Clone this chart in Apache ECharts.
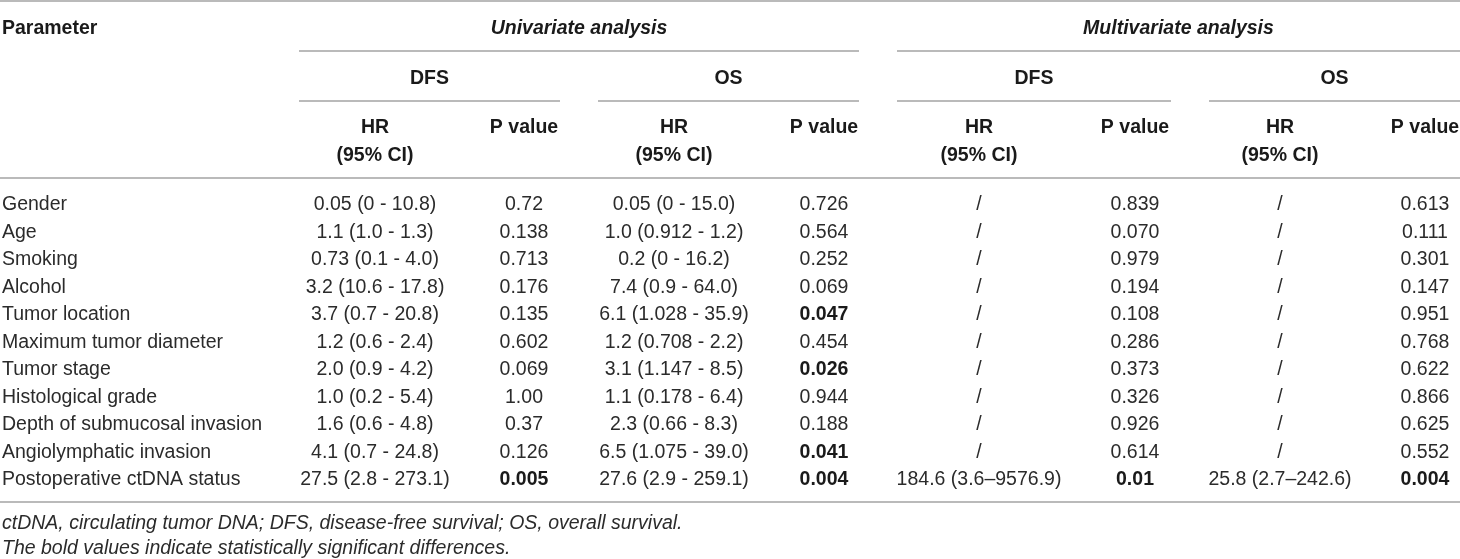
<!DOCTYPE html>
<html>
<head>
<meta charset="utf-8">
<script src="https://cdn.jsdelivr.net/npm/echarts@6/dist/echarts.min.js"></script>
<style>
html,body{margin:0;padding:0;background:#fff;}
#chart{width:1460px;height:559px;}
</style>
</head>
<body>
<div id="chart"></div>
<script>
// ---- data ----
const parameters = ['Gender','Age','Smoking','Alcohol','Tumor location','Maximum tumor diameter','Tumor stage','Histological grade','Depth of submucosal invasion','Angiolymphatic invasion','Postoperative ctDNA status'];
const uniDfsHR = ['0.05 (0 - 10.8)','1.1 (1.0 - 1.3)','0.73 (0.1 - 4.0)','3.2 (10.6 - 17.8)','3.7 (0.7 - 20.8)','1.2 (0.6 - 2.4)','2.0 (0.9 - 4.2)','1.0 (0.2 - 5.4)','1.6 (0.6 - 4.8)','4.1 (0.7 - 24.8)','27.5 (2.8 - 273.1)'];
const uniDfsP = ['0.72','0.138','0.713','0.176','0.135','0.602','0.069','1.00','0.37','0.126','0.005'];
const uniOsHR = ['0.05 (0 - 15.0)','1.0 (0.912 - 1.2)','0.2 (0 - 16.2)','7.4 (0.9 - 64.0)','6.1 (1.028 - 35.9)','1.2 (0.708 - 2.2)','3.1 (1.147 - 8.5)','1.1 (0.178 - 6.4)','2.3 (0.66 - 8.3)','6.5 (1.075 - 39.0)','27.6 (2.9 - 259.1)'];
const uniOsP = ['0.726','0.564','0.252','0.069','0.047','0.454','0.026','0.944','0.188','0.041','0.004'];
const mulDfsHR = ['/','/','/','/','/','/','/','/','/','/','184.6 (3.6\u20139576.9)'];
const mulDfsP = ['0.839','0.070','0.979','0.194','0.108','0.286','0.373','0.326','0.926','0.614','0.01'];
const mulOsHR = ['/','/','/','/','/','/','/','/','/','/','25.8 (2.7\u2013242.6)'];
const mulOsP = ['0.613','0.111','0.301','0.147','0.951','0.768','0.622','0.866','0.625','0.552','0.004'];
const groupLabels = ['Univariate analysis','Multivariate analysis'];
const subGroupLabels = ['DFS','OS','DFS','OS'];
const footnotes = ['ctDNA, circulating tumor DNA; DFS, disease-free survival; OS, overall survival.','The bold values indicate statistically significant differences.'];

// ---- layout ----
const FONT = '"Liberation Sans", Arial, sans-serif';
const SIZE = 19.5;
const TEXT_DY = 2;
const colX = [2, 375, 524, 674, 824, 979, 1135, 1280, 1425];
const groupSpan = [[299, 859], [897, 1460]];
const subSpan = [[299, 560], [598, 859], [897, 1171], [1209, 1460]];
const rowY0 = 203, rowStep = 27.5;
const yTitle = 27, yLine1 = 51, ySub = 77, yLine2 = 101, yHR = 126, yCI = 154, yHead = 178;

const cells = [];
function cell(x, y, text, opt) {
  opt = opt || {};
  cells.push({x: x, y: y + TEXT_DY, text: text, align: opt.align || 'center',
    weight: opt.bold ? 'bold' : 'normal', style: opt.italic ? 'italic' : 'normal',
    color: opt.color || (opt.bold ? '#1a1a1a' : '#2b2b2b')});
}
cell(colX[0], yTitle, 'Parameter', {align: 'left', bold: true});
groupLabels.forEach((g, i) => cell((groupSpan[i][0] + groupSpan[i][1]) / 2, yTitle, g, {bold: true, italic: true}));
subGroupLabels.forEach((g, i) => cell((subSpan[i][0] + subSpan[i][1]) / 2, ySub, g, {bold: true}));
for (let k = 0; k < 4; k++) {
  cell(colX[1 + 2 * k], yHR, 'HR', {bold: true});
  cell(colX[1 + 2 * k], yCI, '(95% CI)', {bold: true});
  cell(colX[2 + 2 * k], yHR, 'P value', {bold: true});
}
const columns = [uniDfsHR, uniDfsP, uniOsHR, uniOsP, mulDfsHR, mulDfsP, mulOsHR, mulOsP];
parameters.forEach((p, r) => {
  const y = rowY0 + r * rowStep;
  cell(colX[0], y, p, {align: 'left'});
  columns.forEach((col, c) => {
    const isP = c % 2 === 1;
    const bold = isP && parseFloat(col[r]) < 0.05;
    cell(colX[c + 1], y, col[r], {bold: bold});
  });
});
cell(colX[0], 522, footnotes[0], {align: 'left', italic: true});
cell(colX[0], 547, footnotes[1], {align: 'left', italic: true});

const rules = [
  [0, 1460, 1],
  [groupSpan[0][0], groupSpan[0][1], yLine1],
  [groupSpan[1][0], groupSpan[1][1], yLine1],
  ...subSpan.map(s => [s[0], s[1], yLine2]),
  [0, 1460, yHead],
  [0, 1460, 502]
];

const chart = echarts.init(document.getElementById('chart'), null, {renderer: 'canvas'});
chart.setOption({
  animation: false,
  grid: {left: 0, right: 0, top: 0, bottom: 0},
  xAxis: {type: 'value', min: 0, max: 1460, show: false},
  yAxis: {type: 'value', min: 0, max: 559, inverse: true, show: false},
  series: [
    {
      type: 'custom',
      data: rules,
      encode: {x: [0, 1], y: 2},
      renderItem: function (params, api) {
        const p1 = api.coord([api.value(0), api.value(2)]);
        const p2 = api.coord([api.value(1), api.value(2)]);
        return {type: 'line', shape: {x1: p1[0], y1: p1[1], x2: p2[0], y2: p2[1]},
          style: {stroke: '#a3a3a3', lineWidth: 1.6}};
      }
    },
    {
      type: 'custom',
      data: cells.map(c => [c.x, c.y]),
      encode: {x: 0, y: 1},
      renderItem: function (params, api) {
        const c = cells[params.dataIndex];
        const pt = api.coord([api.value(0), api.value(1)]);
        return {type: 'text', x: pt[0], y: pt[1],
          style: {text: c.text, fill: c.color,
            font: c.style + ' ' + c.weight + ' ' + SIZE + 'px ' + FONT,
            align: c.align, textAlign: c.align,
            verticalAlign: 'middle', textVerticalAlign: 'middle'}};
      }
    }
  ]
});
</script>
</body>
</html>
